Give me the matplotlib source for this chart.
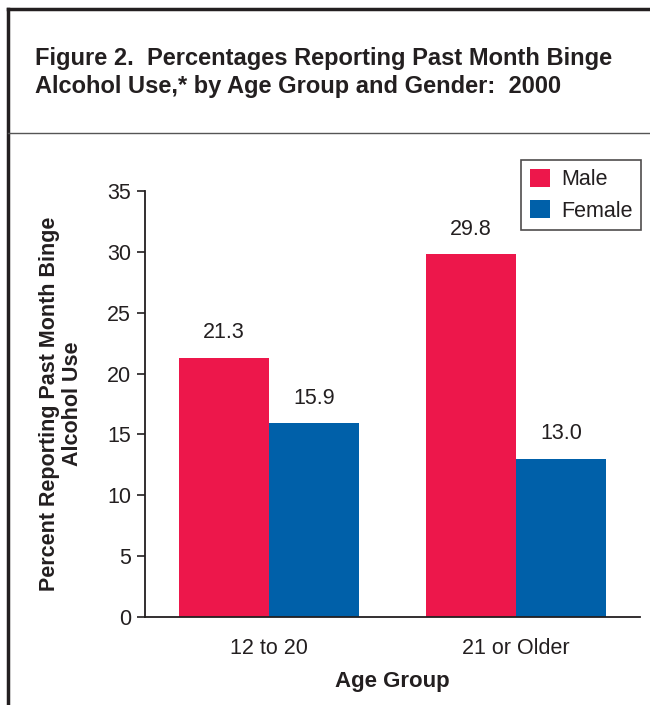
"""
Figure 2: past month binge alcohol use by age group and gender, 2000
"""

import numpy as np
import matplotlib
matplotlib.use('Agg')
import matplotlib.pyplot as plt
from matplotlib.lines import Line2D

plt.rcParams['font.family'] = ['Liberation Sans', 'DejaVu Sans']

age_groups = ['12 to 20', '21 or Older']
male = [21.3, 29.8]
female = [15.9, 13.0]
yticks = [0, 5, 10, 15, 20, 25, 30, 35]

TEXT = '#231f20'
RED = '#ed174b'
BLUE = '#0060a9'

fig = plt.figure(figsize=(6.5, 7.05), dpi=100)
ax = fig.add_axes([145 / 650, 1 - 617 / 705, 495 / 650, 426 / 705])

x = np.arange(len(age_groups))
w = 0.364
b1 = ax.bar(x - w / 2, male, w, color=RED, label='Male')
b2 = ax.bar(x + w / 2, female, w, color=BLUE, label='Female')

# value labels above bars
for bars, vals in [(b1, male), (b2, female)]:
    for rect, v in zip(bars, vals):
        ax.text(rect.get_x() + rect.get_width() / 2, v + 1.2, '%.1f' % v,
                ha='center', va='bottom', fontsize=15.5, color=TEXT)

ax.set_xlim(-0.5, 1.5)
ax.set_ylim(0, 35)
ax.set_yticks(yticks)
ax.set_xticks(x)
ax.set_xticklabels(age_groups)
ax.tick_params(axis='y', length=6, width=1.2, labelsize=15.5, labelcolor=TEXT, color=TEXT, pad=4)
ax.tick_params(axis='x', length=0, labelsize=15.5, labelcolor=TEXT, pad=15)
for s in ['top', 'right']:
    ax.spines[s].set_visible(False)
for s in ['left', 'bottom']:
    ax.spines[s].set_color(TEXT)
    ax.spines[s].set_linewidth(1.3)

ax.set_xlabel('Age Group', fontsize=16, fontweight='bold', color=TEXT, labelpad=9)
ax.set_ylabel('Percent Reporting Past Month Binge\nAlcohol Use', fontsize=15.5,
              fontweight='bold', color=TEXT, labelpad=17, linespacing=1.15)

leg = ax.legend(loc='upper right', bbox_to_anchor=(1.002, 1.073), borderaxespad=0,
                fontsize=15.5, frameon=True, fancybox=False, handlelength=0.95,
                handleheight=0.95, handletextpad=0.5, borderpad=0.4, labelspacing=0.45)
leg.get_frame().set_edgecolor(TEXT)
leg.get_frame().set_linewidth(1.2)
for t in leg.get_texts():
    t.set_color(TEXT)

fig.text(35 / 650, 1 - 72.5 / 705, 'Figure 2.  Percentages Reporting Past Month Binge\n'
         'Alcohol Use,* by Age Group and Gender:  2000',
         fontsize=17, fontweight='bold', color=TEXT, ha='left', va='center', linespacing=1.32)

# box around the figure
fig.add_artist(Line2D([8 / 650, 1], [1 - 9 / 705, 1 - 9 / 705], color=TEXT, lw=2.5))
fig.add_artist(Line2D([8 / 650, 8 / 650], [0, 1 - 9 / 705], color=TEXT, lw=2.5))
fig.add_artist(Line2D([8 / 650, 1], [1 - 133 / 705, 1 - 133 / 705], color='#555555', lw=1))

plt.savefig('out.png', dpi=100)
